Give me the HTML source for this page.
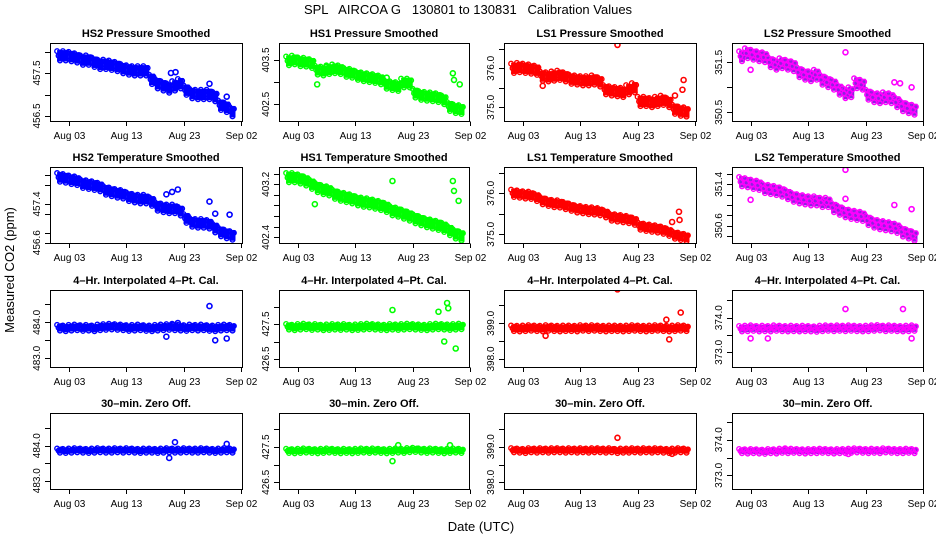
<!DOCTYPE html>
<html><head><meta charset="utf-8"><style>
body{margin:0;background:#fff;}
svg{display:block;font-family:"Liberation Sans",sans-serif;}
</style></head><body>
<svg id="chart" width="936" height="540" viewBox="0 0 936 540">
<rect width="936" height="540" fill="#fff"/>
<text x="468" y="14" text-anchor="middle" font-size="13" xml:space="preserve">SPL   AIRCOA G   130801 to 130831   Calibration Values</text>
<text transform="translate(14,270) rotate(-90)" text-anchor="middle" font-size="13">Measured CO2 (ppm)</text>
<text x="481" y="531" text-anchor="middle" font-size="13">Date (UTC)</text>
</svg>
<script>
// x tick data (day of Aug, Sep 02 = 33)
const xTickDays = [3, 13, 23, 33];
const xTickLabels = ["Aug 03", "Aug 13", "Aug 23", "Sep 02"];
const days = [];
for (let d = 1; d <= 31; d++) days.push(d);

const hs2P = [457.9,457.9,457.88,457.85,457.8,457.8,457.75,457.7,457.7,457.68,457.65,457.6,457.57,457.55,457.55,457.55,457.35,457.25,457.2,457.15,457.2,457.25,457.1,457.02,457.0,457.0,457.0,456.95,456.75,456.7,456.6];
const hs1P = [403.48,403.5,403.46,403.45,403.42,403.27,403.25,403.28,403.3,403.28,403.22,403.2,403.15,403.12,403.1,403.08,403.05,402.95,402.92,402.9,402.98,402.98,402.75,402.7,402.68,402.67,402.65,402.6,402.45,402.4,402.38];
const ls1P = [376.0,376.02,376.0,375.98,375.95,375.8,375.78,375.8,375.82,375.78,375.72,375.7,375.68,375.68,375.7,375.65,375.45,375.42,375.4,375.38,375.45,375.5,375.15,375.15,375.12,375.15,375.18,375.12,374.95,374.9,374.88];
const ls2P = [351.62,351.68,351.65,351.62,351.6,351.5,351.45,351.48,351.45,351.42,351.3,351.25,351.22,351.25,351.15,351.1,351.05,350.95,350.88,350.9,351.08,351.05,350.85,350.8,350.78,350.8,350.78,350.7,350.62,350.58,350.55];
const hs2T = [457.95,457.93,457.9,457.88,457.82,457.8,457.78,457.75,457.68,457.65,457.62,457.6,457.55,457.52,457.5,457.5,457.45,457.35,457.32,457.3,457.3,457.25,457.1,457.02,457.0,457.0,456.98,456.9,456.82,456.78,456.75];
const hs1T = [403.3,403.3,403.28,403.25,403.2,403.15,403.12,403.1,403.05,403.02,403.0,402.98,402.95,402.93,402.92,402.9,402.88,402.85,402.8,402.78,402.75,402.72,402.68,402.65,402.62,402.6,402.58,402.55,402.5,402.45,402.42];
const ls1T = [376.0,375.98,375.96,375.95,375.9,375.82,375.78,375.75,375.74,375.7,375.66,375.62,375.6,375.58,375.57,375.55,375.5,375.42,375.4,375.38,375.36,375.32,375.2,375.17,375.15,375.13,375.1,375.05,374.98,374.95,374.92];
const ls2T = [351.45,351.43,351.4,351.38,351.32,351.3,351.28,351.25,351.2,351.15,351.12,351.1,351.08,351.08,351.05,351.05,350.95,350.9,350.85,350.82,350.8,350.78,350.7,350.65,350.62,350.6,350.58,350.55,350.48,350.44,350.4];
const hs2C = [483.85,483.83,483.85,483.86,483.84,483.85,483.83,483.86,483.87,483.88,483.87,483.86,483.84,483.85,483.86,483.84,483.83,483.85,483.86,483.87,483.86,483.85,483.84,483.86,483.85,483.86,483.84,483.83,483.85,483.86,483.85];
const hs1C = [427.42,427.4,427.42,427.43,427.41,427.42,427.4,427.41,427.42,427.41,427.42,427.4,427.41,427.42,427.43,427.42,427.41,427.4,427.42,427.41,427.42,427.43,427.42,427.41,427.4,427.42,427.43,427.42,427.41,427.42,427.43];
const ls1C = [398.86,398.85,398.86,398.87,398.86,398.85,398.87,398.86,398.85,398.86,398.86,398.85,398.87,398.86,398.87,398.86,398.85,398.86,398.86,398.85,398.86,398.87,398.86,398.85,398.86,398.87,398.86,398.85,398.86,398.87,398.86];
const ls2C = [373.68,373.69,373.7,373.68,373.69,373.68,373.7,373.69,373.68,373.69,373.68,373.69,373.68,373.67,373.69,373.7,373.69,373.7,373.69,373.7,373.69,373.68,373.69,373.7,373.71,373.69,373.7,373.69,373.68,373.69,373.7];
const hs2Z = [483.86,483.85,483.86,483.87,483.86,483.85,483.86,483.87,483.86,483.86,483.87,483.86,483.87,483.86,483.85,483.86,483.86,483.85,483.86,483.87,483.86,483.86,483.87,483.86,483.86,483.87,483.86,483.85,483.86,483.87,483.86];
const hs1Z = [427.39,427.38,427.39,427.4,427.39,427.38,427.39,427.4,427.39,427.38,427.39,427.38,427.39,427.4,427.39,427.4,427.39,427.38,427.39,427.4,427.39,427.41,427.42,427.4,427.39,427.4,427.39,427.38,427.39,427.4,427.39];
const ls1Z = [398.9,398.89,398.88,398.9,398.89,398.9,398.89,398.9,398.9,398.89,398.9,398.89,398.9,398.89,398.9,398.9,398.89,398.9,398.88,398.89,398.89,398.9,398.89,398.9,398.89,398.9,398.89,398.88,398.89,398.9,398.89];
const ls2Z = [373.68,373.67,373.68,373.67,373.66,373.68,373.67,373.69,373.68,373.69,373.68,373.67,373.68,373.68,373.69,373.68,373.67,373.68,373.68,373.69,373.7,373.69,373.68,373.69,373.68,373.7,373.69,373.68,373.68,373.69,373.68];

// outliers [day, value]
const hs2POut = [[27.5,457.25],[28.5,457.0],[30.5,456.95],[20.8,457.5],[21.6,457.52]];
const hs1POut = [[6.4,402.95],[8,403.35],[18.5,403.1],[30,403.2],[30.2,403.05],[31.2,402.95]];
const ls1POut = [[19.5,376.6],[31,375.7],[29.5,375.3],[30.8,375.45],[6.5,375.55]];
const ls2POut = [[19.5,351.7],[28,351.1],[29,351.08],[31,351.0],[3,351.35]];
const hs2TOut = [[27.5,457.45],[28.5,457.2],[31,457.18],[20,457.6],[21,457.65],[22,457.7]];
const hs1TOut = [[19.5,403.25],[30,403.25],[30.2,403.1],[31,402.95],[6,402.9]];
const ls1TOut = [[19.5,376.75],[30.2,375.55],[30.3,375.35],[29,375.3]];
const ls2TOut = [[19.5,351.68],[19.5,351.12],[28,351.0],[31,350.92],[3,351.1]];
const hs2COut = [[27.5,484.45],[20,483.6],[21,483.95],[22,483.98],[28.5,483.5],[30.5,483.55]];
const hs1COut = [[19.5,427.9],[27.5,427.85],[29,428.1],[29.2,427.95],[28.5,427.0],[30.5,426.8]];
const ls1COut = [[19.5,399.95],[28,399.1],[30.5,399.3],[28.5,398.55],[7,398.65]];
const ls2COut = [[19.5,374.25],[29.5,374.25],[3,373.4],[6,373.4],[31,373.4]];
const hs2ZOut = [[21.5,484.1],[20.5,483.65],[30.5,484.05]];
const hs1ZOut = [[19.5,427.1],[20.5,427.55],[29.5,427.55]];
const ls1ZOut = [[19.5,399.25],[29,398.8]];
const ls2ZOut = [[20,373.6],[9,373.75]];

const NS = "http://www.w3.org/2000/svg";
const svg = document.getElementById("chart");
function mk(tag, attrs, parent) {
  const e = document.createElementNS(NS, tag);
  for (const k in attrs) e.setAttribute(k, attrs[k]);
  (parent || svg).appendChild(e);
  return e;
}
const cols = [[50,242],[279,469],[504,696],[732,923]];
const rows = [[43,121],[167,243],[290,367],[413,489]];
const colColors = [["#0000ff","#0000ff"],["#00ff00","#00ff00"],["#ff0000","#ff0000"],["#9020e0","#ff00ff"]];
const panels = [
 {r:0,c:0,t:"HS2 Pressure Smoothed",v:hs2P,o:hs2POut,ya:[457.5,73],yb:[456.5,116],tk:[456.5,457,457.5,458],lb:["456.5","457.5"],sp:0.11},
 {r:0,c:1,t:"HS1 Pressure Smoothed",v:hs1P,o:hs1POut,ya:[403.5,60],yb:[402.5,104.3],tk:[402.5,403,403.5],lb:["402.5","403.5"],sp:0.1},
 {r:0,c:2,t:"LS1 Pressure Smoothed",v:ls1P,o:ls1POut,ya:[376.0,68.3],yb:[375.0,107.3],tk:[375,375.5,376,376.5],lb:["375.0","376.0"],sp:0.12},
 {r:0,c:3,t:"LS2 Pressure Smoothed",v:ls2P,o:ls2POut,ya:[351.5,62.3],yb:[350.5,112.3],tk:[350.5,351,351.5],lb:["350.5","351.5"],sp:0.1},
 {r:1,c:0,t:"HS2 Temperature Smoothed",v:hs2T,o:hs2TOut,ya:[457.4,204],yb:[456.6,242.7],tk:[456.6,456.8,457.2,457.4,457.8,458.0],lb:["456.6","457.4"],sp:0.09},
 {r:1,c:1,t:"HS1 Temperature Smoothed",v:hs1T,o:hs1TOut,ya:[403.2,184.3],yb:[402.4,237.3],tk:[402.4,402.56,402.72,402.88,403.04,403.2,403.36],lb:["402.4","403.2"],sp:0.07},
 {r:1,c:2,t:"LS1 Temperature Smoothed",v:ls1T,o:ls1TOut,ya:[376.0,193.3],yb:[375.0,234.3],tk:[375,375.5,376,376.5],lb:["375.0","376.0"],sp:0.09},
 {r:1,c:3,t:"LS2 Temperature Smoothed",v:ls2T,o:ls2TOut,ya:[351.4,184.3],yb:[350.6,225.7],tk:[350.4,350.6,350.8,351.0,351.2,351.4,351.6],lb:["350.6","351.4"],sp:0.09},
 {r:2,c:0,t:"4\u2013Hr. Interpolated 4\u2013Pt. Cal.",v:hs2C,o:hs2COut,ya:[484.0,322.3],yb:[483.0,358.3],tk:[483,483.5,484,484.5],lb:["483.0","484.0"],sp:0.08},
 {r:2,c:1,t:"4\u2013Hr. Interpolated 4\u2013Pt. Cal.",v:hs1C,o:hs1COut,ya:[427.5,324],yb:[426.5,359],tk:[426.5,427,427.5,428],lb:["426.5","427.5"],sp:0.08},
 {r:2,c:2,t:"4\u2013Hr. Interpolated 4\u2013Pt. Cal.",v:ls1C,o:ls1COut,ya:[399.0,323.3],yb:[398.0,359],tk:[398,398.5,399,399.5],lb:["398.0","399.0"],sp:0.08},
 {r:2,c:3,t:"4\u2013Hr. Interpolated 4\u2013Pt. Cal.",v:ls2C,o:ls2COut,ya:[374.0,317.7],yb:[373.0,352.3],tk:[373,373.5,374,374.5],lb:["373.0","374.0"],sp:0.08},
 {r:3,c:0,t:"30\u2013min. Zero Off.",v:hs2Z,o:hs2ZOut,ya:[484.0,445.7],yb:[483.0,480.7],tk:[483,483.5,484,484.5],lb:["483.0","484.0"],sp:0.06},
 {r:3,c:1,t:"30\u2013min. Zero Off.",v:hs1Z,o:hs1ZOut,ya:[427.5,447],yb:[426.5,482.3],tk:[426.5,427,427.5,428],lb:["426.5","427.5"],sp:0.06},
 {r:3,c:2,t:"30\u2013min. Zero Off.",v:ls1Z,o:ls1ZOut,ya:[399.0,446.7],yb:[398.0,482.3],tk:[398,398.5,399,399.5],lb:["398.0","399.0"],sp:0.06},
 {r:3,c:3,t:"30\u2013min. Zero Off.",v:ls2Z,o:ls2ZOut,ya:[374.0,439.7],yb:[373.0,475.3],tk:[373,373.5,374,374.5],lb:["373.0","374.0"],sp:0.06}
];
panels.forEach((p, i) => {
  const [x0, x1] = cols[p.c], [y0, y1] = rows[p.r];
  const [fill, stroke] = colColors[p.c];
  const xs = d => x0 + 18.6 + (d - 3) * 5.75;
  const ys = v => p.ya[1] + (v - p.ya[0]) * (p.yb[1] - p.ya[1]) / (p.yb[0] - p.ya[0]);
  const g = mk("g", {});
  
  
  const ti = mk("text", {x:(x0+x1)/2, y:y0-6, "text-anchor":"middle", "font-size":"11", "font-weight":"bold"}, g);
  ti.textContent = p.t;
  
  
  const clip = mk("clipPath", {id:"cp"+i}, g);
  mk("rect", {x:x0, y:y0, width:x1-x0, height:y1-y0}, clip);
  const data = mk("g", {"clip-path":"url(#cp"+i+")"}, g);
  
  
  const spPx = Math.abs(p.sp * (p.yb[1] - p.ya[1]) / (p.yb[0] - p.ya[0]));
  days.forEach((d, k) => {
    const v = p.v[k];
    const cy = ys(v);
    const band = mk("rect", {x:xs(d), y:cy - spPx - 1, width:5.9, height:2*spPx + 2, fill:fill}, data);
    
    
    [[d, cy - spPx], [d + 0.5, cy + spPx], [d + 0.25, cy], [d + 0.75, cy - spPx * 0.6]].forEach(([dd, yy]) => {
      const c = mk("circle", {cx:xs(dd), cy:yy, r:2.3, fill:"none", stroke:stroke, "stroke-width":1.4}, data);
      
      
    });
  });
  p.o.forEach(([d, v]) => {
    const c = mk("circle", {cx:xs(d), cy:ys(v), r:2.5, fill:"none", stroke:stroke, "stroke-width":1.6}, data);
    
    
  });
  const box = mk("rect", {x:x0+0.5, y:y0+0.5, width:x1-x0, height:y1-y0, fill:"none", stroke:"#000", "stroke-width":1}, g);
  
  
  xTickDays.forEach((d, k) => {
    const x = Math.round(xs(d)) + 0.5;
    mk("line", {x1:x, x2:x, y1:y1+0.5, y2:y1+5, stroke:"#000"}, g);
    const t = mk("text", {x:x, y:y1+18, "text-anchor":"middle", "font-size":"10"}, g);
    t.textContent = xTickLabels[k];
    
    
  });
  p.tk.forEach(v => {
    const y = Math.round(ys(v)) + 0.5;
    if (y < y0 || y > y1 + 1) return;
    mk("line", {x1:x0-5, x2:x0+0.5, y1:y, y2:y, stroke:"#000"}, g);
  });
  p.lb.forEach(s => {
    const y = ys(parseFloat(s));
    const t = mk("text", {transform:"translate(" + (x0-10) + "," + y + ") rotate(-90)", "text-anchor":"middle", "font-size":"10"}, g);
    t.textContent = s;
    
    
  });
});
</script>
</body></html>
